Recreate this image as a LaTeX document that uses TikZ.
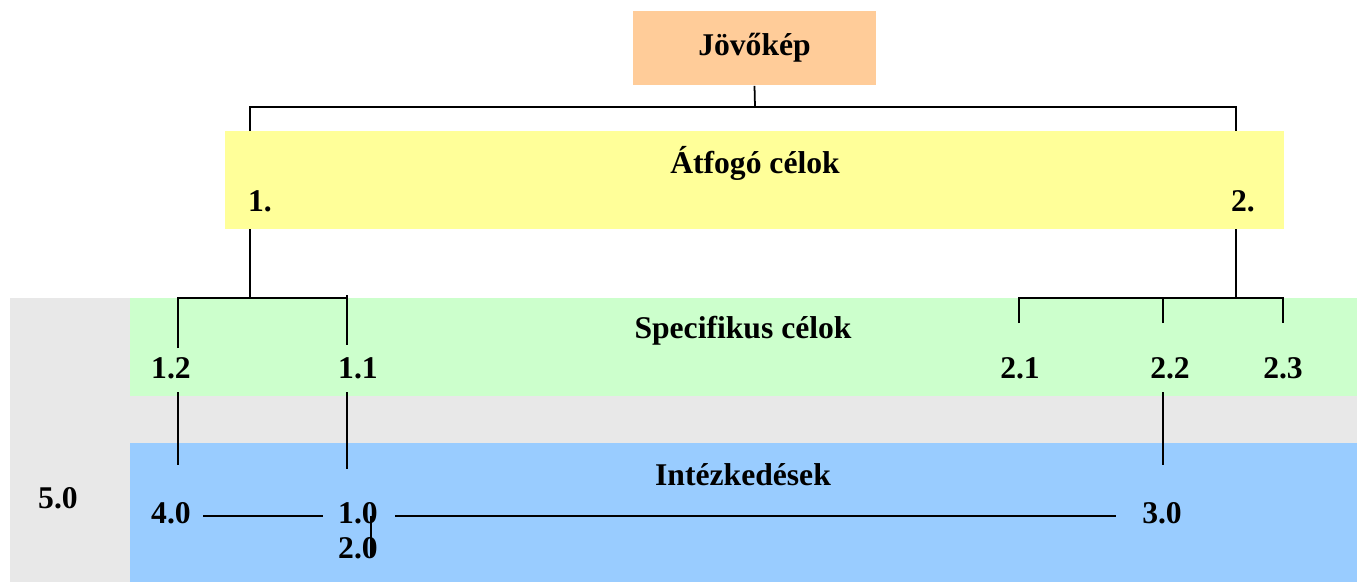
\documentclass[tikz,border=0pt]{standalone}
\usepackage{fontspec}
\setmainfont{Liberation Serif}
\usetikzlibrary{positioning}

\definecolor{peach}{HTML}{FFCC99}
\definecolor{lemon}{HTML}{FFFF99}
\definecolor{mint}{HTML}{CCFFCC}
\definecolor{sky}{HTML}{99CCFF}
\definecolor{greyband}{HTML}{E8E8E8}

\begin{document}
\begin{tikzpicture}[x=0.02cm,y=-0.02cm,line width=1pt,
  font=\fontsize{18}{22}\selectfont\bfseries,
  band/.style={rectangle,inner sep=0pt,draw=none},
  lbl/.style={inner sep=0pt}]

\useasboundingbox (0,0) rectangle (1361,582);

% bands
\node[band,fill=greyband,minimum width=26.94cm,minimum height=5.68cm] (BG)  at (683.5,440) {};
\node[band,fill=mint,minimum width=24.54cm,minimum height=1.96cm]     (SPEC) at (743.5,347) {};
\node[band,fill=sky,minimum width=24.54cm,minimum height=2.78cm]      (INT) at (743.5,512.5) {};
\node[band,fill=lemon,minimum width=21.18cm,minimum height=1.96cm]    (ATF) at (754.5,180) {};
\node[band,fill=peach,minimum width=4.86cm,minimum height=1.48cm]     (JOV) at (754.5,48) {Jövőkép};

% titles and numbers
\node[lbl] (ATFT)  at (755,163)  {Átfogó célok};
\node[lbl] (SPECT) at (743,331)  {Specifikus célok};
\node[lbl] (INTT)  at (743,475)  {Intézkedések};
\node[lbl] (N1)    at (260,201)  {1.};
\node[lbl] (N2)    at (1243,201) {2.};
\node[lbl] (N12)   at (171,368)  {1.2};
\node[lbl] (N11)   at (358,368)  {1.1};
\node[lbl] (N21)   at (1020,368) {2.1};
\node[lbl] (N22)   at (1170,368) {2.2};
\node[lbl] (N23)   at (1283,368) {2.3};
\node[lbl] (N50)   at (58,498)   {5.0};
\node[lbl] (N40)   at (171,513)  {4.0};
\node[lbl] (N10)   at (358,513)  {1.0};
\node[lbl] (N20)   at (358,548)  {2.0};
\node[lbl] (N30)   at (1162,513) {3.0};

% connector ends
\coordinate (TOP) at (755,107);
\coordinate (A1)  at (250,131);
\coordinate (A2)  at (1236,131);
\coordinate (A1b) at (250,229);
\coordinate (A2b) at (1236,229);
\coordinate (L)   at (250,298);
\coordinate (R)   at (1236,298);
\coordinate (S12) at (178,348);
\coordinate (S11) at (347,345);
\coordinate (S11t) at (347,295);
\coordinate (S21) at (1019,323);
\coordinate (S22) at (1163,323);
\coordinate (S23) at (1283,323);
\coordinate (M12a) at (178,392);
\coordinate (M12b) at (178,465);
\coordinate (M11a) at (347,392);
\coordinate (M11b) at (347,469);
\coordinate (M22a) at (1163,392);
\coordinate (M22b) at (1163,465);
\coordinate (H1a) at (203,516);
\coordinate (H1b) at (323,516);
\coordinate (H2a) at (395,516);
\coordinate (H2b) at (1116,516);
\coordinate (V1a) at (371,516);
\coordinate (V1b) at (371,557);

\draw (JOV.south) -- (TOP);
\draw (A1) |- (TOP) -| (A2);
\draw (A1b) -- (L);
\draw (S12) |- (S11t |- L);
\draw (S11t) -- (S11);
\draw (A2b) -- (R);
\draw (S21) |- (S23 |- R) -- (S23);
\draw (S22) -- (S22 |- R);
\draw (M12a) -- (M12b);
\draw (M11a) -- (M11b);
\draw (M22a) -- (M22b);
\draw (H1a) -- (H1b);
\draw (H2a) -- (H2b);
\draw (V1a) -- (V1b);
\end{tikzpicture}
\end{document}
